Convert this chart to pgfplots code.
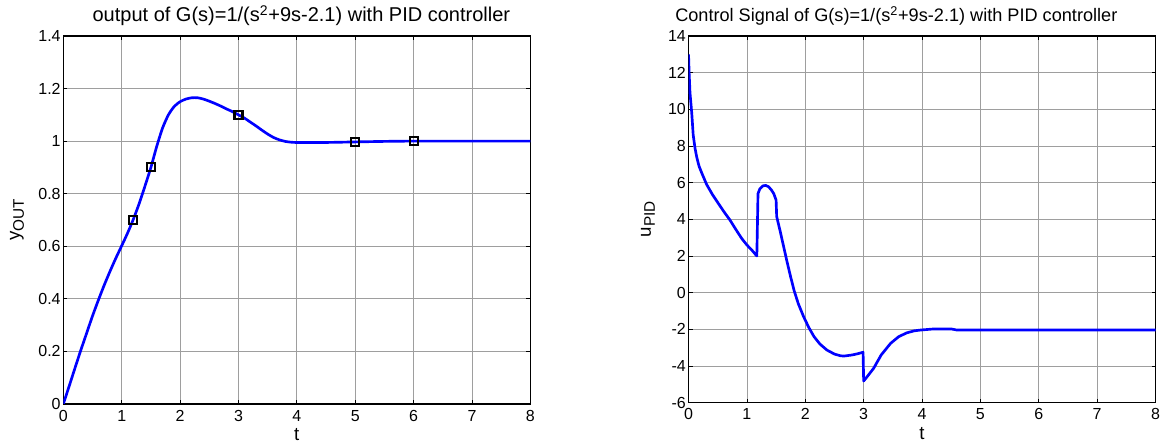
\documentclass[border=0pt]{standalone}
\usepackage{fontspec}
\setmainfont{Liberation Sans}
\usepackage{pgfplots}
\pgfplotsset{compat=1.18}

% 1 px of the reference = 0.75pt
\newcommand\sub[1]{\raisebox{-0.4ex}{\fontsize{11.5}{13}\selectfont #1}}

\pgfplotsset{
  matfig/.style={
    scale only axis,
    width=350.25pt, height=276pt,
    anchor=south west,
    xmin=0, xmax=8, xtick={0,...,8},
    grid=major,
    major grid style={black!38, line width=0.6pt},
    axis line style={black, line width=1pt},
    tick style={black, line width=0.6pt},
    major tick length=3pt,
    tick align=inside,
    tick pos=both,
    tick label style={font=\fontsize{12}{14}\selectfont},
    xticklabel style={yshift=-1pt},
    yticklabel style={xshift=1.5pt},
    /pgf/number format/assume math mode=true,
    title style={font=\fontsize{15}{17}\selectfont, anchor=base,
      at={(axis description cs:0.5,1)}, yshift=4.5pt},
    xlabel style={font=\fontsize{14}{16}\selectfont, anchor=center,
      at={(axis description cs:0.5,-0.084)}},
    ylabel style={font=\fontsize{14}{16}\selectfont, anchor=center, rotate=0},
  },
  curve/.style={blue, line width=2pt, no marks, line join=round},
}

\begin{document}
\begin{tikzpicture}
\path[use as bounding box] (0,0) rectangle (873pt,336pt);

\begin{axis}[matfig, at={(47.5pt,33pt)},
  ymin=0, ymax=1.4, ytick={0,0.2,...,1.4},
  title={output of G(s)=1/(s\textsuperscript{2}+9s-2.1) with PID controller},
  title style={xshift=3.4pt},
  xlabel={t},
  ylabel={y\sub{OUT}},
  ylabel style={at={(axis description cs:-0.099,0.5)}},
]
\addplot[curve, smooth, tension=0.4] coordinates {
  (0,0) (0.1,0.068) (0.2,0.137) (0.3,0.205) (0.4,0.27) (0.5,0.335)
  (0.6,0.395) (0.7,0.452) (0.8,0.505) (0.9,0.555) (1.0,0.602) (1.1,0.65)
  (1.2,0.703) (1.3,0.763) (1.4,0.83) (1.5,0.9) (1.6,0.98) (1.7,1.05)
  (1.8,1.1) (1.9,1.132) (2.0,1.15) (2.1,1.16) (2.2,1.165) (2.3,1.165)
  (2.4,1.16) (2.5,1.152) (2.6,1.143) (2.7,1.133) (2.8,1.122) (2.9,1.112)
  (3.0,1.1) (3.1,1.088) (3.2,1.073) (3.3,1.058) (3.4,1.042) (3.5,1.027)
  (3.6,1.014) (3.7,1.005) (3.8,0.999) (3.9,0.996) (4.0,0.995) (4.5,0.995)
  (5.0,0.997) (5.5,0.999) (6.0,1.0) (8,1.0)
};
\addplot[only marks, mark=square, mark size=3pt, black,
  mark options={line width=1.6pt}] coordinates {
  (1.2,0.7) (1.5,0.9) (3,1.1) (5,0.997) (6,1.0)
};
\end{axis}

\begin{axis}[matfig, at={(516.4pt,34pt)}, height=275pt,
  ymin=-6, ymax=14, ytick={-6,-4,...,14},
  title={Control Signal of G(s)=1/(s\textsuperscript{2}+9s-2.1) with PID controller},
  title style={xshift=-19.3pt, font=\fontsize{13.6}{16}\selectfont},
  xlabel={t},
  ylabel={u\sub{PID}},
  ylabel style={at={(axis description cs:-0.087,0.5)}},
]
\addplot[curve] coordinates {
  (0,13.0) (0.01,12.0) (0.025,10.9) (0.055,9.8) (0.08,8.6) (0.11,7.9)
  (0.14,7.4) (0.18,6.9) (0.23,6.5) (0.31,5.9) (0.41,5.35) (0.51,4.87)
  (0.61,4.4) (0.71,3.96) (0.81,3.45) (0.91,2.96) (1.0,2.6) (1.09,2.3)
  (1.17,2.0) (1.19,5.4) (1.22,5.65) (1.27,5.82) (1.32,5.85) (1.37,5.78)
  (1.42,5.6) (1.46,5.4) (1.50,5.05) (1.51,4.15) (1.57,3.35) (1.63,2.5)
  (1.69,1.65) (1.75,0.85) (1.81,0.1) (1.88,-0.6) (1.97,-1.3) (2.06,-1.9)
  (2.15,-2.4) (2.25,-2.8) (2.37,-3.13) (2.5,-3.35) (2.6,-3.44) (2.66,-3.46)
  (2.8,-3.4) (2.9,-3.33) (2.99,-3.25) (3.0,-4.82) (3.08,-4.5) (3.17,-4.13)
  (3.3,-3.4) (3.46,-2.77) (3.6,-2.4) (3.74,-2.19) (3.87,-2.08) (3.97,-2.04)
  (4.2,-1.98) (4.5,-1.98) (4.6,-2.04) (8,-2.04)
};
\end{axis}
\end{tikzpicture}
\end{document}
